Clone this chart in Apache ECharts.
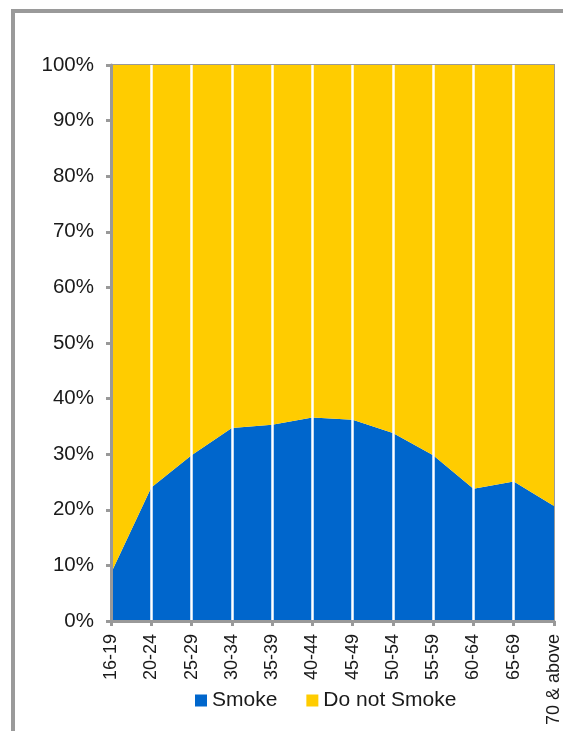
<!DOCTYPE html>
<html>
<head>
<meta charset="utf-8">
<script src="https://cdn.jsdelivr.net/npm/echarts@6/dist/echarts.min.js"></script>
<style>
  html, body { margin: 0; padding: 0; background: #fff; }
  #chart { width: 563px; height: 731px; }
</style>
</head>
<body>
<div id="chart"></div>
<script>
const categories = ['16-19', '20-24', '25-29', '30-34', '35-39', '40-44', '45-49', '50-54', '55-59', '60-64', '65-69', '70 & above'];
const smoke = [8.6, 24.0, 29.8, 34.7, 35.3, 36.6, 36.2, 33.8, 29.8, 23.8, 25.1, 20.7];
const doNotSmoke = [91.4, 76.0, 70.2, 65.3, 64.7, 63.4, 63.8, 66.2, 70.2, 76.2, 74.9, 79.3];
const seriesNames = ['Smoke', 'Do not Smoke'];

const FONT = '"Liberation Sans", Arial, sans-serif';
const chart = echarts.init(document.getElementById('chart'), null, { renderer: 'canvas' });
chart.setOption({
  animation: false,
  backgroundColor: '#fff',
  color: ['#0066CC', '#FFCC00'],
  graphic: [{
    type: 'rect',
    shape: { x: 13, y: 11, width: 700, height: 900 },
    style: { fill: 'none', stroke: '#9a9a9a', lineWidth: 4 },
    z: 10
  }],
  grid: {
    left: 111, right: 7, top: 65, bottom: 110,
    show: true, z: 3,
    backgroundColor: 'transparent',
    borderColor: '#999', borderWidth: 2
  },
  legend: {
    data: seriesNames,
    left: 195, top: 690,
    itemWidth: 12, itemHeight: 12, itemGap: 29,
    icon: 'rect',
    padding: 0,
    textStyle: { fontSize: 21, color: '#1a1a1a', fontFamily: FONT }
  },
  xAxis: {
    type: 'category',
    data: categories,
    boundaryGap: false,
    z: 4,
    axisLine: { show: true, lineStyle: { color: '#999', width: 3 } },
    axisTick: { show: true, length: 5, lineStyle: { color: '#999', width: 3 } },
    axisLabel: { rotate: 90, margin: 13, fontSize: 18, color: '#1a1a1a', fontFamily: FONT, interval: 0 },
    splitLine: { show: true, showMinLine: false, showMaxLine: false, lineStyle: { color: '#fff', width: 2.5 } }
  },
  yAxis: {
    type: 'value',
    min: 0, max: 100, interval: 10,
    z: 5,
    axisLine: { show: true, lineStyle: { color: '#999', width: 3 } },
    axisTick: { show: true, length: 5, lineStyle: { color: '#999', width: 3 } },
    axisLabel: { formatter: '{value}%', margin: 17, fontSize: 20.5, color: '#1a1a1a', fontFamily: FONT },
    splitLine: { show: false }
  },
  series: [
    {
      name: seriesNames[0], type: 'line', stack: 'total', data: smoke,
      symbol: 'none', lineStyle: { width: 0 }, areaStyle: { opacity: 1, color: '#0066CC' },
      itemStyle: { color: '#0066CC' }
    },
    {
      name: seriesNames[1], type: 'line', stack: 'total', data: doNotSmoke,
      symbol: 'none', lineStyle: { width: 0 }, areaStyle: { opacity: 1, color: '#FFCC00' },
      itemStyle: { color: '#FFCC00' }
    }
  ]
});
</script>
</body>
</html>
